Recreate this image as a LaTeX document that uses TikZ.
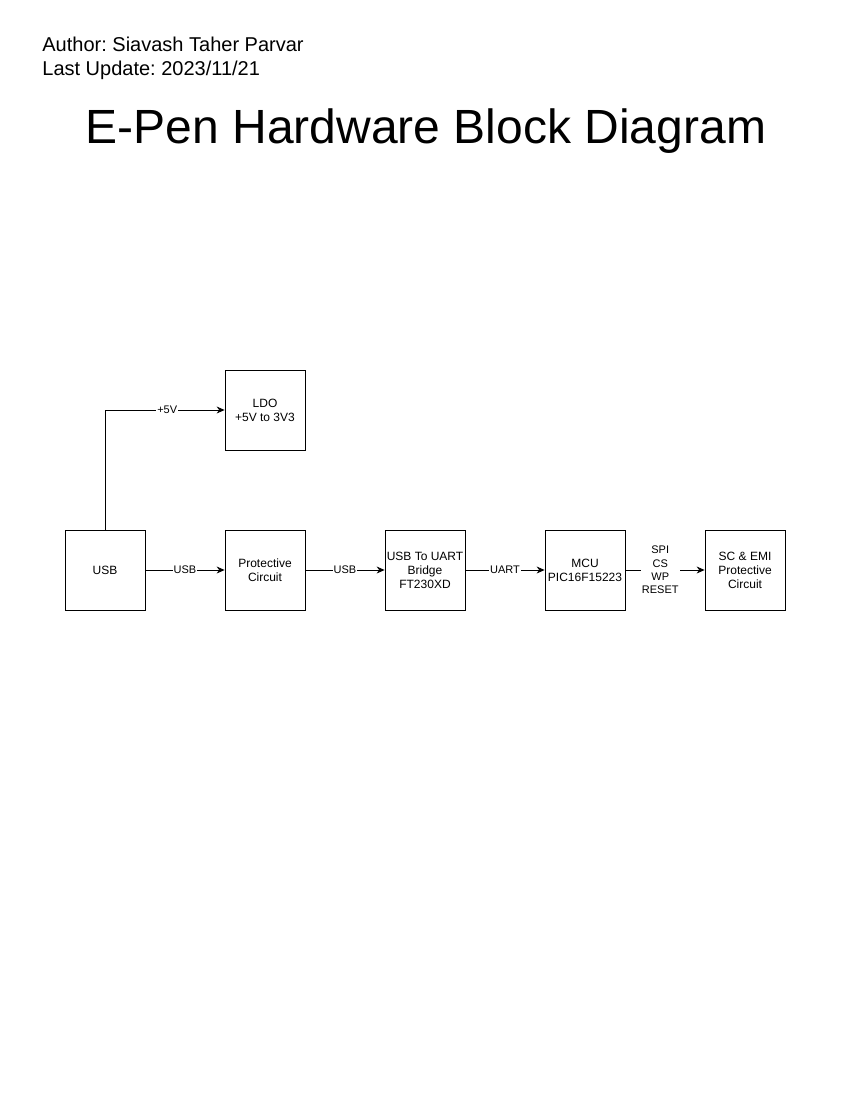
\documentclass[tikz,border=0pt]{standalone}
\usepackage{fontspec}
\setmainfont{Liberation Sans}
\usepackage{tikz}
\usetikzlibrary{arrows.meta}
\frenchspacing

\begin{document}
\begin{tikzpicture}[x=1pt, y=-1pt, line width=0.8pt, >={Stealth[length=8pt,width=7pt]}]
        \tikzstyle{every node}=[font=\fontsize{12}{14}\selectfont]
        \tikzstyle{block}=[draw, minimum size=80pt, inner sep=1pt, align=center]
        \tikzstyle{lbl}=[fill=white, inner sep=1pt, align=center, font=\fontsize{11}{13.3}\selectfont]
        \useasboundingbox (0,0) rectangle (851,1100);
        \node [anchor=base west, inner sep=0pt, font=\fontsize{20}{24}\selectfont] (author) at (42,51) {Author: Siavash Taher Parvar};
        \node [anchor=base west, inner sep=0pt, font=\fontsize{20}{24}\selectfont] (update) at (42,75) {Last Update: 2023/11/21};
        \node [anchor=base, font=\fontsize{48}{56}\selectfont] (title) at (426,143) {E-Pen Hardware Block Diagram};
        \node [block] (usb) at (105,570) {USB};
        \node [block] (prot) at (265,570) {Protective\\Circuit};
        \node [block] (bridge) at (425,570) {USB To UART\\Bridge\\FT230XD};
        \node [block] (mcu) at (585,570) {MCU\\PIC16F15223};
        \node [block] (sc) at (745,570) {SC \& EMI\\Protective\\Circuit};
        \node [block] (ldo) at (265,410) {LDO\\+5V to 3V3};
        \draw[->] (usb.north) |- node[lbl, pos=0.76] {+5V} (ldo.west);
        \draw[->] (usb) -- node[lbl] {USB} (prot);
        \draw[->] (prot) -- node[lbl] {USB} (bridge);
        \draw[->] (bridge) -- node[lbl] {UART} (mcu);
        \draw[->] (mcu) -- node[lbl, pos=0.44] {SPI\\CS\\WP\\RESET} (sc);
      \end{tikzpicture}
\end{document}
